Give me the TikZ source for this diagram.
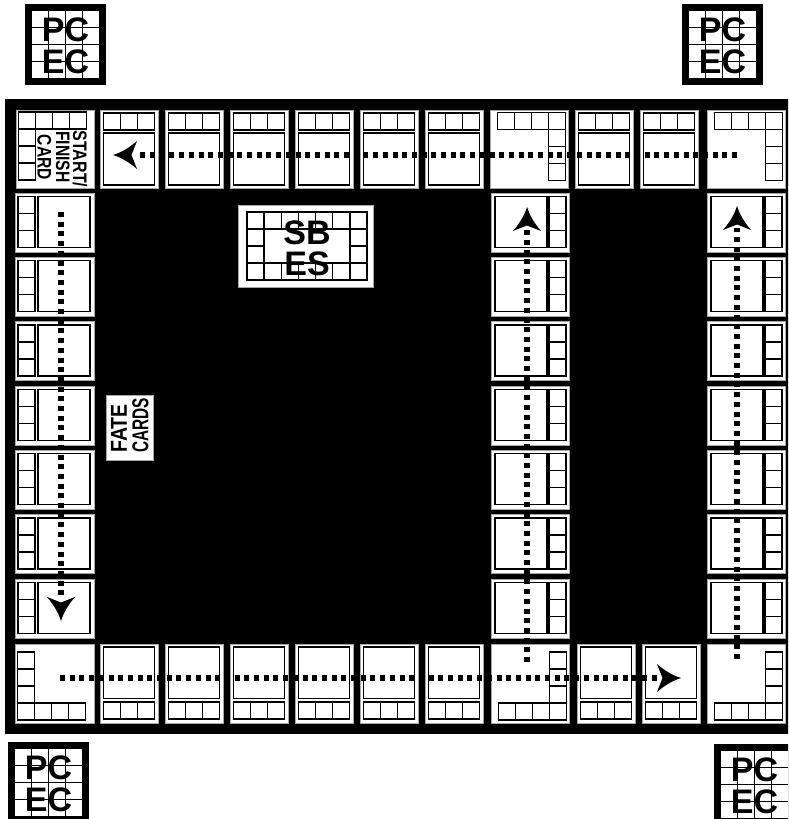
\documentclass[tikz,border=0pt]{standalone}
\usepackage{fontspec}
\usepackage{graphicx}
\setmainfont{Liberation Sans}
\begin{document}
\begin{tikzpicture}[x=1pt,y=-1pt,line join=miter]
\tikzset{
  cellbg/.style={fill=white,draw=black!35,line width=0.6},
  sq/.style={draw=black,line width=1.35},
  dotpath/.style={line width=5.2,dash pattern=on 5 off 4.7},
  bigtxt/.style={inner sep=0pt,font=\fontsize{34}{34}\selectfont\bfseries,text height=24.3pt,text depth=0pt},
  lbl/.style={inner sep=0pt,font=\fontsize{19.5}{19.5}\selectfont\bfseries,text height=14pt,text depth=0pt},
  lblb/.style={inner sep=0pt,font=\fontsize{23}{23}\selectfont\bfseries,text height=16.5pt,text depth=0pt},
}
\newcommand\sqrow[3]{\foreach \k in {1,...,#3}{\draw[sq] ({#1+17*(\k-1)},#2) rectangle ++(17,17);}}
\newcommand\sqcol[3]{\foreach \k in {1,...,#3}{\draw[sq] (#1,{#2+17*(\k-1)}) rectangle ++(17,17);}}
% top row regular cell
\newcommand\tcell[1]{\fill[cellbg] (#1,110) rectangle ++(58,78);
  \sqrow{#1+3.5}{113}{3}\draw[sq] ({#1+3.5},133) rectangle ({#1+54.5},185);}
% bottom row regular cell
\newcommand\bcell[1]{\fill[cellbg] (#1,644) rectangle ++(58,79);
  \draw[sq] ({#1+3.5},647) rectangle ({#1+54.5},698.5);\sqrow{#1+3.5}{702}{3}}
% left column cell (strip left)
\newcommand\lcell[1]{\fill[cellbg] (15,#1) rectangle ++(79,59);
  \sqcol{18}{#1+3.5}{3}\draw[sq] (38,{#1+3.5}) rectangle (90,{#1+54.5});}
% column cell with strip on the right, #1 = left x, #2 = top y
\newcommand\rcell[2]{\fill[cellbg] (#1,#2) rectangle ++(78,59);
  \draw[sq] ({#1+4},{#2+3.5}) rectangle ({#1+56},{#2+54.5});\sqcol{#1+58}{#2+3.5}{3}}
\newcommand\arrowtip[3]{\fill[shift={(#1,#2)},rotate=#3] (0,0) .. controls (-8,2.5) and (-16,7) .. (-24,14) -- (-18.5,0) -- (-24,-14) .. controls (-16,-7) and (-8,-2.5) .. (0,0) -- cycle;}
\newcommand\pcbox[3]{%
  \fill[black] (#1,#2) rectangle ++(81,81);
  \fill[white] ({#1+7},{#2+7}) rectangle ++(67,67);
  \foreach \k in {1,2,3}{\draw[sq] ({#1+7+16.75*\k},{#2+7}) -- ++(0,67);
    \draw[sq] ({#1+7},{#2+7+16.75*\k}) -- ++(67,0);}
  \node[bigtxt] (#3pc) at ({#1+40.5},{#2+25.5}) {PC};
  \node[bigtxt] (#3ec) at ({#1+40.5},{#2+57.5}) {EC};}

\useasboundingbox (0,0) rectangle (788,819);
\clip (0,0) rectangle (788,819);
\fill[white] (0,0) rectangle (788,819);

% PC EC boxes
\pcbox{25}{4}{tl}
\pcbox{682}{4}{tr}
\pcbox{8}{742}{bl}
\pcbox{714}{744}{br}

% board
\fill[black] (5,99) rectangle (792,734);

% top row
\fill[cellbg] (16,110) rectangle (94,188);
\sqrow{18.5}{112}{4}\sqcol{18.5}{129}{3}
\foreach \X in {100,165,230,295,360,425,575,640}{\tcell{\X}}
\fill[cellbg] (490,110) rectangle (568,188);
\sqrow{497.5}{112.5}{4}\sqcol{548.5}{129.5}{3}
\fill[cellbg] (707,110) rectangle (785,188);
\sqrow{714.5}{112.5}{4}\sqcol{765.5}{129.5}{3}

% bottom row
\fill[cellbg] (15,644) rectangle (94,723);
\sqcol{17.5}{652}{3}\sqrow{17.5}{703}{4}
\foreach \X in {100,165,230,295,360,425,577,642}{\bcell{\X}}
\fill[cellbg] (491,644) rectangle (569,723);
\sqcol{549.5}{652}{3}\sqrow{498.5}{703}{4}
\fill[cellbg] (707,644) rectangle (785,723);
\sqcol{765.5}{652}{3}\sqrow{714.5}{703}{4}

% columns
\foreach \j in {0,...,6}{
  \pgfmathsetmacro\Y{193+64.3*\j}
  \lcell{\Y}
  \rcell{491}{\Y}
  \rcell{707}{\Y}
}

% SB ES box
\fill[cellbg] (238,205) rectangle (373,287);
\foreach \c in {0,...,6}{\draw[sq] ({247+17.15*\c},212) rectangle ++(17.15,17);
  \draw[sq] ({247+17.15*\c},263) rectangle ++(17.15,17);}
\foreach \r in {1,2}{\draw[sq] (247,{212+17*\r}) rectangle ++(17.15,17);
  \draw[sq] ({247+17.15*6},{212+17*\r}) rectangle ++(17.15,17);}
\node[bigtxt,font=\fontsize{34}{34}\selectfont\bfseries,text height=24.3pt] (sb) at (307,232) {SB};
\node[bigtxt,font=\fontsize{34}{34}\selectfont\bfseries,text height=24.3pt] (es) at (307,263.5) {ES};

% START/FINISH CARD
\node[lbl,rotate=-90] (start) at (80,159) {\scalebox{0.82}[1]{START/}};
\node[lbl,rotate=-90] (finish) at (63,157) {\scalebox{0.8}[1]{FINISH}};
\node[lbl,rotate=-90] (card) at (44.5,157.5) {\scalebox{0.8}[1]{CARD}};

% FATE CARDS
\fill[cellbg] (106,395) rectangle (153,460);
\node[lblb,rotate=90,anchor=west] (fate) at (118.5,453) {\scalebox{0.85}[1]{FATE}};
\node[lblb,rotate=90,anchor=west] (cards) at (140,453) {\scalebox{0.67}[1]{CARDS}};

% paths
\coordinate (topR) at (737,155); \coordinate (topL) at (136,155);
\coordinate (leftT) at (61,212); \coordinate (leftB) at (61,599);
\coordinate (botL) at (60,678); \coordinate (botR) at (659,678);
\coordinate (midB) at (527,662); \coordinate (midT) at (527,229);
\coordinate (rgtB) at (737,659); \coordinate (rgtT) at (737,228);
\draw[dotpath] (topR) -- (topL);
\draw[dotpath] (leftT) -- (leftB);
\draw[dotpath] (botL) -- (botR);
\draw[dotpath] (midB) -- (midT);
\draw[dotpath] (rgtB) -- (rgtT);
\arrowtip{113}{155}{180}
\arrowtip{61}{621}{-90}
\arrowtip{681}{678}{0}
\arrowtip{527}{207}{90}
\arrowtip{737}{206}{90}
\end{tikzpicture}
\end{document}
